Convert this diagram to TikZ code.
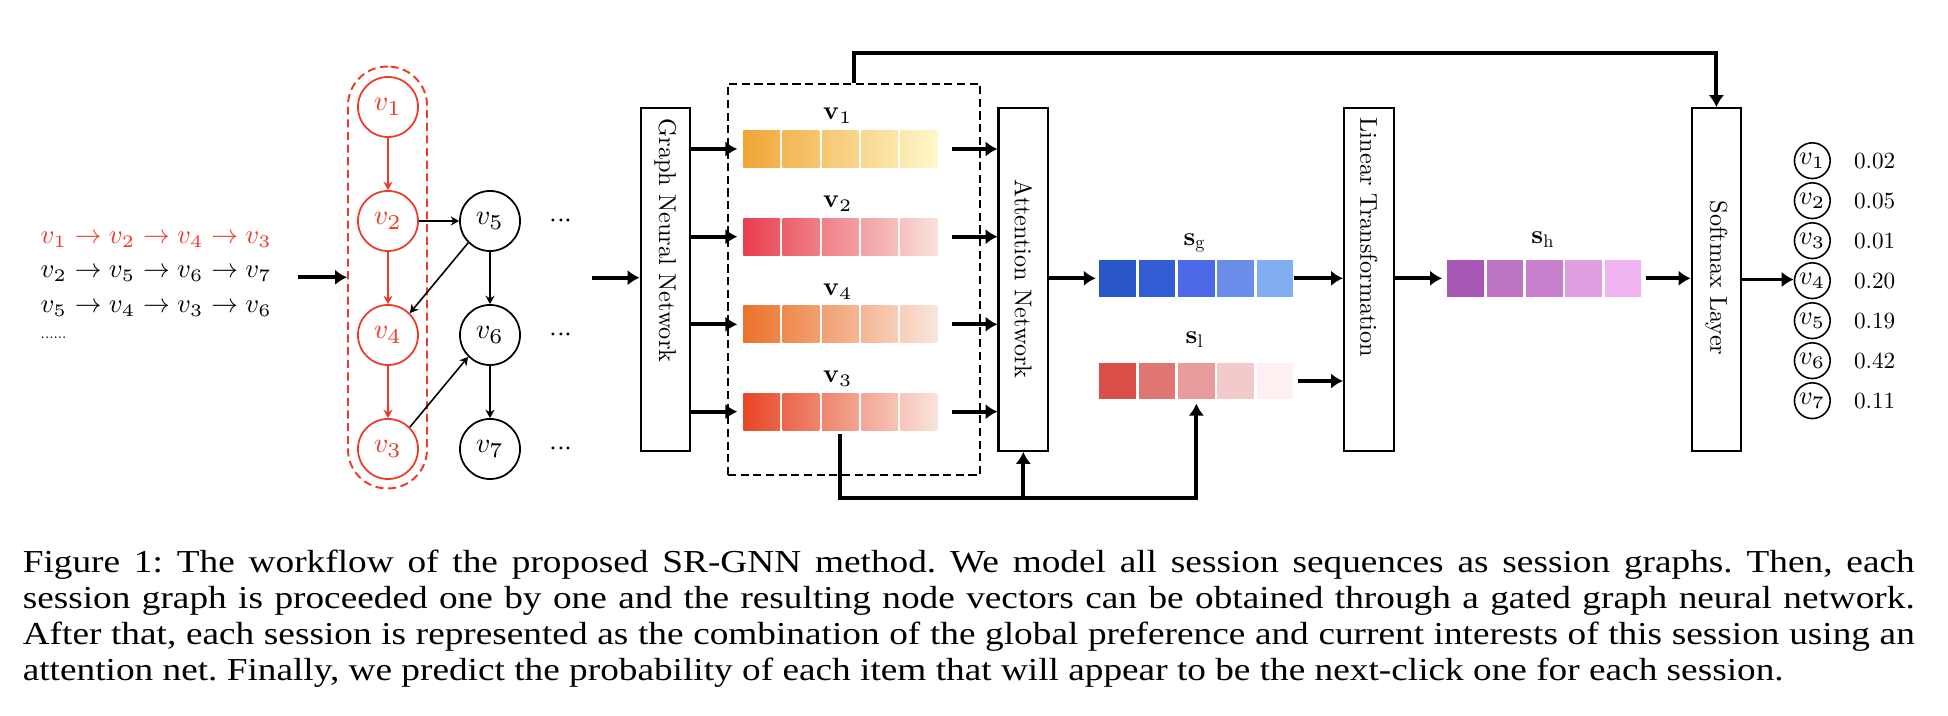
\documentclass[tikz,border=0pt]{standalone}
\usepackage{amsmath}
\usepackage{fontspec}
\setmainfont{lmroman10}[Extension=.otf,UprightFont=*-regular,BoldFont=*-bold,ItalicFont=*-italic,BoldItalicFont=*-bolditalic]
\newfontfamily\capfont{Liberation Serif}
\DeclareFontShape{OML}{cmm}{m}{it}{<->cmmi10}{}
\DeclareFontShape{OMS}{cmsy}{m}{n}{<->cmsy10}{}
\usetikzlibrary{arrows.meta,calc}
\definecolor{gred}{HTML}{EE3A2A}
\definecolor{voneA}{HTML}{F0A535}\definecolor{voneB}{HTML}{FFF9CC}
\definecolor{vtwoA}{HTML}{E83E4E}\definecolor{vtwoB}{HTML}{F9E3DD}
\definecolor{vfourA}{HTML}{EC722A}\definecolor{vfourB}{HTML}{FAE6DE}
\definecolor{vthreeA}{HTML}{E84626}\definecolor{vthreeB}{HTML}{FAE6DE}
\definecolor{sgA}{HTML}{2A57C8}\definecolor{sgB}{HTML}{335DD4}\definecolor{sgC}{HTML}{4E69E8}
\definecolor{sgD}{HTML}{6A8DEA}\definecolor{sgE}{HTML}{80AEF0}
\definecolor{slA}{HTML}{D94E48}\definecolor{slB}{HTML}{E07672}\definecolor{slC}{HTML}{E89D9C}
\definecolor{slD}{HTML}{F2CACB}\definecolor{slE}{HTML}{FCF0F1}
\definecolor{shA}{HTML}{A657B4}\definecolor{shB}{HTML}{BE74C4}\definecolor{shC}{HTML}{C880CC}
\definecolor{shD}{HTML}{DEA0E0}\definecolor{shE}{HTML}{EFB3F2}
\tikzset{
    seq/.style={anchor=west,inner sep=0pt,font=\fontsize{7.6}{9}\selectfont},
    item/.style={circle,draw,line width=0.5pt,minimum size=0.6cm,inner sep=0pt,font=\fontsize{8}{9}\selectfont},
    outitem/.style={circle,draw,line width=0.45pt,minimum size=0.357cm,inner sep=0pt,font=\fontsize{7.5}{8}\selectfont},
    layer/.style={draw,line width=0.6pt,minimum width=0.495cm,minimum height=3.424cm,inner sep=0pt},
    laytext/.style={rotate=-90,inner sep=0pt,font=\fontsize{6.9}{8}\selectfont},
    cell/.style={minimum size=0.367cm,inner sep=0pt},
    veclab/.style={inner sep=0pt,font=\fontsize{7.4}{8}\selectfont},
    bigarrow/.style={line width=1.1pt,-{Latex[length=3.4pt,width=4.4pt]}},
    thinarrow/.style={line width=0.45pt,-{Stealth[length=2.4pt,width=2.6pt]}},
    dashbox/.style={line width=0.55pt,dash pattern=on 2.3pt off 1.3pt}
}
\begin{document}
\begin{tikzpicture}[x=0.01cm,y=-0.01cm]
    \useasboundingbox (0,0) rectangle (1948,716);
    % session sequences
    \node (seq1) at (40,240)[seq,text=gred]{$v_1 \rightarrow v_2 \rightarrow v_4 \rightarrow v_3$};
    \node (seq2) at (40,274)[seq]{$v_2 \rightarrow v_5 \rightarrow v_6 \rightarrow v_7$};
    \node (seq3) at (40,309)[seq]{$v_5 \rightarrow v_4 \rightarrow v_3 \rightarrow v_6$};
    \node (seqdots) at (40,338)[seq,font=\fontsize{4.4}{5}\selectfont]{......};
    \coordinate (sin) at (298,277.3);
    % session graph
    \node (sess) at (387.5,277.5)[draw=gred,dashbox,rounded corners=0.39cm,minimum width=0.79cm,minimum height=4.216cm]{};
    \foreach \i/\y in {1/107,2/221,4/335,3/449}
        \node (n\i) at (388,\y)[item,draw=gred,text=gred]{$v_\i$};
    \foreach \i/\y in {5/221,6/335,7/449}{
        \node (n\i) at (490,\y)[item]{$v_\i$};
        \node (d\i) at (561,\y)[inner sep=0pt,font=\fontsize{8}{9}\selectfont]{${\cdot}{\cdot}{\cdot}$};
    }
    \draw[thinarrow,gred] (n1) -- (n2);
    \draw[thinarrow,gred] (n2) -- (n4);
    \draw[thinarrow,gred] (n4) -- (n3);
    \draw[thinarrow] (n2) -- (n5);
    \draw[thinarrow] (n5.south west) -- (n4.north east);
    \draw[thinarrow] (n5) -- (n6);
    \draw[thinarrow] (n3.north east) -- (n6.south west);
    \draw[thinarrow] (n6) -- (n7);
    \draw[bigarrow] (sin) -- (sin -| sess.west);
    \coordinate (gin) at (591.7,277.7);
    % layers
    \node (gnn) at (665.4,279.5)[layer]{};
    \node (gnntext) at (665.4,240.5)[laytext]{Graph Neural Network};
    \node (att) at (1023.3,279.5)[layer]{};
    \node (atttext) at (1023.3,279)[laytext]{Attention Network};
    \node (lin) at (1368.8,279.5)[layer]{};
    \node (lintext) at (1368.8,237.5)[laytext]{Linear Transformation};
    \node (soft) at (1716.4,279.5)[layer]{};
    \node (softtext) at (1716.4,278)[laytext]{Softmax Layer};
    \draw[bigarrow] (gin) -- (gin -| gnn.west);
    % node vectors
    \node (vecs) at (854,279.5)[draw,dashbox,minimum width=2.52cm,minimum height=3.91cm]{};
    \foreach \n/\y/\ca/\cb in {1/149/voneA/voneB,2/236.7/vtwoA/vtwoB,4/324.3/vfourA/vfourB,3/411.7/vthreeA/vthreeB}{
        \node (lv\n) at (838,\y-33)[veclab]{$\mathbf{v}_\n$};
        \foreach \k in {1,...,5}{
            \pgfmathtruncatemacro\pa{(\k-1)*20}
            \pgfmathtruncatemacro\pb{(\k-1)*20+19}
            \node (v\n-\k) at ({761.65+(\k-1)*39.35},\y)[cell,left color=\cb!\pa!\ca,right color=\cb!\pb!\ca]{};
        }
        \draw[bigarrow,shorten >=1.5pt] (gnn.east |- v\n-1.west) -- (v\n-1.west);
        \draw[bigarrow,shorten <=4pt] (v\n-5.east) -- (att.west |- v\n-5.east);
    }
    % session vectors
    \foreach \k/\c in {1/sgA,2/sgB,3/sgC,4/sgD,5/sgE}
        \node (sg-\k) at ({1117.65+(\k-1)*39.35},278.3)[cell,fill=\c]{};
    \foreach \k/\c in {1/slA,2/slB,3/slC,4/slD,5/slE}
        \node (sl-\k) at ({1117.65+(\k-1)*39.35},381)[cell,fill=\c]{};
    \foreach \k/\c in {1/shA,2/shB,3/shC,4/shD,5/shE}
        \node (sh-\k) at ({1465.65+(\k-1)*39.35},278.3)[cell,fill=\c]{};
    \node (lsg) at (1195,243)[veclab]{$\mathbf{s}_\mathrm{g}$};
    \node (lsl) at (1195,340)[veclab]{$\mathbf{s}_\mathrm{l}$};
    \node (lsh) at (1543.3,240)[veclab]{$\mathbf{s}_\mathrm{h}$};
    \draw[bigarrow,shorten >=0.8pt] (att.east |- sg-1.west) -- (sg-1.west);
    \draw[bigarrow] (sg-5.east) -- (lin.west |- sg-5.east);
    \draw[bigarrow,shorten <=1pt] (sl-5.east) -- (lin.west |- sl-5.east);
    \draw[bigarrow,shorten >=1.3pt] (lin.east |- sh-1.west) -- (sh-1.west);
    \draw[bigarrow,shorten <=1pt] (sh-5.east) -- (soft.west |- sh-5.east);
    % skip connections
    \coordinate (topbend) at (854,52.7);
    \draw[bigarrow] (vecs.north) -- (topbend) -| (soft.north);
    \coordinate (botbend) at (840.35,498.3);
    \draw[bigarrow,shorten <=1pt,shorten >=1pt] (v3-3.south) -- (botbend) -| (sl-3.south);
    \draw[bigarrow] (att.south |- botbend) -- (att.south);
    % scores
    \foreach \i/\p in {1/0.02,2/0.05,3/0.01,4/0.20,5/0.19,6/0.42,7/0.11}{
        \node (o\i) at (1812.3,{120.7+\i*40})[outitem]{$v_\i$};
        \node (p\i) at (1853.3,{120.7+\i*40})[anchor=west,inner sep=0pt,font=\fontsize{6.6}{7}\selectfont]{\p};
    }
    \draw[bigarrow] (soft.east) -- (soft.east -| o4.west);
    % caption
    \node (caption) at (22,549)[anchor=north west,inner sep=0pt,xscale=1.165,text width=16.23cm,align=justify,font=\capfont\fontsize{9.1}{10.3}\selectfont]{\frenchspacing Figure 1: The workflow of the proposed SR-GNN method. We model all session sequences as session graphs. Then, each\linebreak session graph is proceeded one by one and the resulting node vectors can be obtained through a gated graph neural network.\linebreak After that, each session is represented as the combination of the global preference and current interests of this session using an\linebreak attention net. Finally, we predict the probability of each item that will appear to be the next-click one for each session.};
\end{tikzpicture}
\end{document}
